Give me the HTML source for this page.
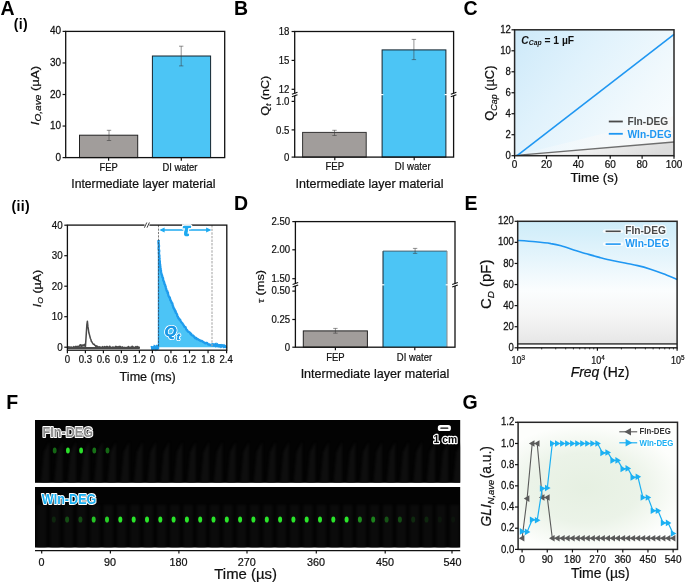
<!DOCTYPE html>
<html lang="en"><head><meta charset="utf-8"><title>Figure</title>
<style>html,body{margin:0;padding:0;background:#fff;overflow:hidden}svg{display:block}text{font-family:"Liberation Sans",Arial,Helvetica,sans-serif}</style>
</head><body>
<svg width="685" height="583" viewBox="0 0 685 583">
<defs>
<linearGradient id="gC" gradientUnits="userSpaceOnUse" x1="514.6" y1="29.8" x2="674" y2="155.7">
<stop offset="0" stop-color="#cde9f9"/><stop offset="0.35" stop-color="#e0f2fc"/><stop offset="0.7" stop-color="#f1f9fd"/><stop offset="1" stop-color="#fcfeff"/></linearGradient>
<linearGradient id="gCw" x1="0" y1="0" x2="1" y2="0"><stop offset="0" stop-color="#fafcfd" stop-opacity="0.2"/><stop offset="1" stop-color="#f7f7f7" stop-opacity="0.95"/></linearGradient>
<linearGradient id="gCg" x1="0" y1="0" x2="1" y2="0.15"><stop offset="0" stop-color="#fafafa"/><stop offset="0.5" stop-color="#f1f1f1"/><stop offset="1" stop-color="#dcdcdc"/></linearGradient>
<linearGradient id="gE" x1="0" y1="0" x2="0" y2="1">
<stop offset="0" stop-color="#cdecf9"/><stop offset="0.3" stop-color="#e6f5fc"/><stop offset="0.55" stop-color="#fbfdfe"/><stop offset="0.75" stop-color="#f5f5f5"/><stop offset="1" stop-color="#e4e4e4"/></linearGradient>
<radialGradient id="gG" cx="0.42" cy="0.52" r="0.62" gradientTransform="translate(0 0.1) scale(1 0.8)">
<stop offset="0" stop-color="#e6f0e2"/><stop offset="0.55" stop-color="#ebf3e8"/><stop offset="1" stop-color="#fdfefc"/></radialGradient>
<filter id="bl" color-interpolation-filters="sRGB" x="-100%" y="-100%" width="300%" height="300%"><feGaussianBlur stdDeviation="0.5"/></filter>
<filter id="bl2" color-interpolation-filters="sRGB" x="-50%" y="-20%" width="200%" height="140%"><feGaussianBlur stdDeviation="0.9"/></filter>
<clipPath id="cF1"><rect x="35" y="420" width="425.2" height="62.8"/></clipPath>
<clipPath id="cF2"><rect x="35" y="487" width="425.2" height="60.5"/></clipPath>
</defs>
<rect width="685" height="583" fill="#fff"/>
<text transform="translate(0.40,14.50) scale(1.0000,1.0000)" font-size="19.5" text-anchor="start" fill="#000" font-weight="bold" font-style="normal"  >A</text>
<text transform="translate(234.00,14.50) scale(1.0000,1.0000)" font-size="19.5" text-anchor="start" fill="#000" font-weight="bold" font-style="normal"  >B</text>
<text transform="translate(463.50,14.50) scale(1.0000,1.0000)" font-size="19.5" text-anchor="start" fill="#000" font-weight="bold" font-style="normal"  >C</text>
<text transform="translate(234.00,209.50) scale(1.0000,1.0000)" font-size="19.5" text-anchor="start" fill="#000" font-weight="bold" font-style="normal"  >D</text>
<text transform="translate(464.50,209.50) scale(1.0000,1.0000)" font-size="19.5" text-anchor="start" fill="#000" font-weight="bold" font-style="normal"  >E</text>
<text transform="translate(6.30,408.80) scale(1.0000,1.0000)" font-size="19.5" text-anchor="start" fill="#000" font-weight="bold" font-style="normal"  >F</text>
<text transform="translate(462.50,408.80) scale(1.0000,1.0000)" font-size="19.5" text-anchor="start" fill="#000" font-weight="bold" font-style="normal"  >G</text>
<text transform="translate(13.80,28.80) scale(1.0000,1.0000)" font-size="14" text-anchor="start" fill="#000" font-weight="bold" font-style="normal"  letter-spacing="0.35">(i)</text>
<text transform="translate(11.60,211.20) scale(1.0000,1.0000)" font-size="14" text-anchor="start" fill="#000" font-weight="bold" font-style="normal"  letter-spacing="0.35">(ii)</text>
<rect x="79.50" y="135.20" width="58.20" height="22.40" fill="#a19d9b" stroke="#222" stroke-width="1" />
<rect x="152.40" y="56.01" width="58.20" height="101.59" fill="#4cc5f5" stroke="#14242e" stroke-width="1" />
<line x1="109.00" y1="130.30" x2="109.00" y2="140.50" stroke="#3a3a3a" stroke-width="0.55" />
<line x1="106.80" y1="130.30" x2="111.20" y2="130.30" stroke="#3a3a3a" stroke-width="0.55" />
<line x1="106.80" y1="140.50" x2="111.20" y2="140.50" stroke="#3a3a3a" stroke-width="0.55" />
<line x1="181.20" y1="46.20" x2="181.20" y2="65.90" stroke="#3a3a3a" stroke-width="0.55" />
<line x1="179.00" y1="46.20" x2="183.40" y2="46.20" stroke="#3a3a3a" stroke-width="0.55" />
<line x1="179.00" y1="65.90" x2="183.40" y2="65.90" stroke="#3a3a3a" stroke-width="0.55" />
<rect x="65.70" y="31.40" width="159.00" height="126.20" fill="none" stroke="#111" stroke-width="1.3" />
<line x1="62.60" y1="157.60" x2="65.70" y2="157.60" stroke="#111" stroke-width="1.2" />
<text transform="translate(61.10,160.60) scale(1.0000,1.1400)" font-size="10" text-anchor="end" fill="#111" font-weight="normal" font-style="normal" stroke="#111" stroke-width="0.22" >0</text>
<line x1="62.60" y1="126.05" x2="65.70" y2="126.05" stroke="#111" stroke-width="1.2" />
<text transform="translate(61.10,129.05) scale(1.0000,1.1400)" font-size="10" text-anchor="end" fill="#111" font-weight="normal" font-style="normal" stroke="#111" stroke-width="0.22" >10</text>
<line x1="62.60" y1="94.50" x2="65.70" y2="94.50" stroke="#111" stroke-width="1.2" />
<text transform="translate(61.10,97.50) scale(1.0000,1.1400)" font-size="10" text-anchor="end" fill="#111" font-weight="normal" font-style="normal" stroke="#111" stroke-width="0.22" >20</text>
<line x1="62.60" y1="62.95" x2="65.70" y2="62.95" stroke="#111" stroke-width="1.2" />
<text transform="translate(61.10,65.95) scale(1.0000,1.1400)" font-size="10" text-anchor="end" fill="#111" font-weight="normal" font-style="normal" stroke="#111" stroke-width="0.22" >30</text>
<line x1="62.60" y1="31.40" x2="65.70" y2="31.40" stroke="#111" stroke-width="1.2" />
<text transform="translate(61.10,34.40) scale(1.0000,1.1400)" font-size="10" text-anchor="end" fill="#111" font-weight="normal" font-style="normal" stroke="#111" stroke-width="0.22" >40</text>
<line x1="108.60" y1="157.60" x2="108.60" y2="160.70" stroke="#111" stroke-width="1.2" />
<text transform="translate(108.60,170.80) scale(1.0000,1.1300)" font-size="9.4" text-anchor="middle" fill="#111" font-weight="normal" font-style="normal" stroke="#111" stroke-width="0.22" >FEP</text>
<line x1="181.30" y1="157.60" x2="181.30" y2="160.70" stroke="#111" stroke-width="1.2" />
<text transform="translate(179.90,170.80) scale(1.0000,1.1300)" font-size="9.4" text-anchor="middle" fill="#111" font-weight="normal" font-style="normal" stroke="#111" stroke-width="0.22" >DI water</text>
<text transform="translate(143.40,188.20) scale(1.0000,1.0800)" font-size="12.2" text-anchor="middle" fill="#111" font-weight="normal" font-style="normal" stroke="#111" stroke-width="0.22" >Intermediate layer material</text>
<text transform="translate(38.50,95.50) rotate(-90) scale(1.18,1)" font-size="11.2" text-anchor="middle" fill="#111" stroke="#111" stroke-width="0.22" ><tspan font-style="italic">I</tspan><tspan font-style="italic" font-size="8.5" dy="2.5">O,ave</tspan><tspan dy="-2.5"> (µA)</tspan></text>
<rect x="302.60" y="132.40" width="63.60" height="24.70" fill="#a19d9b" stroke="#333" stroke-width="1" />
<rect x="382.10" y="49.90" width="63.80" height="107.20" fill="#4cc5f5" stroke="#14242e" stroke-width="1" />
<line x1="380.60" y1="94.60" x2="383.40" y2="94.60" stroke="#fff" stroke-width="1.2" />
<line x1="444.60" y1="94.60" x2="447.40" y2="94.60" stroke="#fff" stroke-width="1.2" />
<line x1="334.50" y1="130.30" x2="334.50" y2="135.50" stroke="#3a3a3a" stroke-width="0.55" />
<line x1="332.30" y1="130.30" x2="336.70" y2="130.30" stroke="#3a3a3a" stroke-width="0.55" />
<line x1="332.30" y1="135.50" x2="336.70" y2="135.50" stroke="#3a3a3a" stroke-width="0.55" />
<line x1="413.90" y1="39.40" x2="413.90" y2="59.60" stroke="#3a3a3a" stroke-width="0.55" />
<line x1="411.70" y1="39.40" x2="416.10" y2="39.40" stroke="#3a3a3a" stroke-width="0.55" />
<line x1="411.70" y1="59.60" x2="416.10" y2="59.60" stroke="#3a3a3a" stroke-width="0.55" />
<rect x="294.70" y="31.50" width="158.90" height="125.60" fill="none" stroke="#111" stroke-width="1.3" />
<line x1="293.70" y1="94.60" x2="295.70" y2="94.60" stroke="#fff" stroke-width="2.2" />
<line x1="452.60" y1="94.60" x2="454.60" y2="94.60" stroke="#fff" stroke-width="2.2" />
<line x1="291.90" y1="94.35" x2="297.50" y2="92.35" stroke="#111" stroke-width="1.1" />
<line x1="291.90" y1="96.85" x2="297.50" y2="94.85" stroke="#111" stroke-width="1.1" />
<line x1="450.80" y1="94.35" x2="456.40" y2="92.35" stroke="#111" stroke-width="1.1" />
<line x1="450.80" y1="96.85" x2="456.40" y2="94.85" stroke="#111" stroke-width="1.1" />
<line x1="291.60" y1="31.50" x2="294.70" y2="31.50" stroke="#111" stroke-width="1.2" />
<text transform="translate(289.40,35.20) scale(0.9057,1.0000)" font-size="10.6" text-anchor="end" fill="#111" font-weight="normal" font-style="normal" stroke="#111" stroke-width="0.22" >18</text>
<line x1="291.60" y1="60.40" x2="294.70" y2="60.40" stroke="#111" stroke-width="1.2" />
<text transform="translate(289.40,64.10) scale(0.9057,1.0000)" font-size="10.6" text-anchor="end" fill="#111" font-weight="normal" font-style="normal" stroke="#111" stroke-width="0.22" >15</text>
<line x1="291.60" y1="89.30" x2="294.70" y2="89.30" stroke="#111" stroke-width="1.2" />
<text transform="translate(289.40,93.00) scale(0.9057,1.0000)" font-size="10.6" text-anchor="end" fill="#111" font-weight="normal" font-style="normal" stroke="#111" stroke-width="0.22" >12</text>
<line x1="291.60" y1="101.40" x2="294.70" y2="101.40" stroke="#111" stroke-width="1.2" />
<text transform="translate(289.40,105.10) scale(0.9057,1.0000)" font-size="10.6" text-anchor="end" fill="#111" font-weight="normal" font-style="normal" stroke="#111" stroke-width="0.22" >1.0</text>
<line x1="291.60" y1="129.90" x2="294.70" y2="129.90" stroke="#111" stroke-width="1.2" />
<text transform="translate(289.40,133.60) scale(0.9057,1.0000)" font-size="10.6" text-anchor="end" fill="#111" font-weight="normal" font-style="normal" stroke="#111" stroke-width="0.22" >0.5</text>
<line x1="291.60" y1="157.10" x2="294.70" y2="157.10" stroke="#111" stroke-width="1.2" />
<text transform="translate(289.40,160.80) scale(0.9057,1.0000)" font-size="10.6" text-anchor="end" fill="#111" font-weight="normal" font-style="normal" stroke="#111" stroke-width="0.22" >0</text>
<line x1="334.80" y1="157.10" x2="334.80" y2="160.20" stroke="#111" stroke-width="1.2" />
<text transform="translate(334.80,170.40) scale(0.9057,1.0000)" font-size="10.6" text-anchor="middle" fill="#111" font-weight="normal" font-style="normal" stroke="#111" stroke-width="0.22" >FEP</text>
<line x1="414.20" y1="157.10" x2="414.20" y2="160.20" stroke="#111" stroke-width="1.2" />
<text transform="translate(412.70,170.40) scale(0.9057,1.0000)" font-size="10.6" text-anchor="middle" fill="#111" font-weight="normal" font-style="normal" stroke="#111" stroke-width="0.22" >DI water</text>
<text transform="translate(369.50,188.20) scale(1.0000,1.0800)" font-size="12.5" text-anchor="middle" fill="#111" font-weight="normal" font-style="normal" stroke="#111" stroke-width="0.22" >Intermediate layer material</text>
<text transform="translate(268.60,95.70) rotate(-90) scale(1.08,1)" font-size="11.6" text-anchor="middle" fill="#111" stroke="#111" stroke-width="0.22" >Q<tspan font-style="italic" font-size="8" dy="2.3">t</tspan><tspan dy="-2.3"> (nC)</tspan></text>
<rect x="514.6" y="29.8" width="159.39999999999998" height="125.89999999999999" fill="url(#gC)"/>
<polygon points="514.6,155.7 674,155.7 674,116" fill="url(#gCw)"/>
<polygon points="514.6,155.7 674,155.7 674,142" fill="url(#gCg)"/>
<line x1="516.10" y1="155.40" x2="674.00" y2="142.00" stroke="#6e6e6e" stroke-width="1.3" />
<line x1="517.10" y1="155.70" x2="674.00" y2="34.30" stroke="#1f97f2" stroke-width="1.6" />
<rect x="514.60" y="29.80" width="159.40" height="125.90" fill="none" stroke="#262626" stroke-width="1.5" />
<line x1="511.50" y1="155.70" x2="514.60" y2="155.70" stroke="#111" stroke-width="1.2" />
<text transform="translate(510.80,158.80) scale(1.0000,1.1500)" font-size="9.6" text-anchor="end" fill="#111" font-weight="normal" font-style="normal" stroke="#111" stroke-width="0.22" >0</text>
<line x1="511.50" y1="134.72" x2="514.60" y2="134.72" stroke="#111" stroke-width="1.2" />
<text transform="translate(510.80,137.82) scale(1.0000,1.1500)" font-size="9.6" text-anchor="end" fill="#111" font-weight="normal" font-style="normal" stroke="#111" stroke-width="0.22" >2</text>
<line x1="511.50" y1="113.73" x2="514.60" y2="113.73" stroke="#111" stroke-width="1.2" />
<text transform="translate(510.80,116.83) scale(1.0000,1.1500)" font-size="9.6" text-anchor="end" fill="#111" font-weight="normal" font-style="normal" stroke="#111" stroke-width="0.22" >4</text>
<line x1="511.50" y1="92.75" x2="514.60" y2="92.75" stroke="#111" stroke-width="1.2" />
<text transform="translate(510.80,95.85) scale(1.0000,1.1500)" font-size="9.6" text-anchor="end" fill="#111" font-weight="normal" font-style="normal" stroke="#111" stroke-width="0.22" >6</text>
<line x1="511.50" y1="71.77" x2="514.60" y2="71.77" stroke="#111" stroke-width="1.2" />
<text transform="translate(510.80,74.87) scale(1.0000,1.1500)" font-size="9.6" text-anchor="end" fill="#111" font-weight="normal" font-style="normal" stroke="#111" stroke-width="0.22" >8</text>
<line x1="511.50" y1="50.78" x2="514.60" y2="50.78" stroke="#111" stroke-width="1.2" />
<text transform="translate(510.80,53.88) scale(1.0000,1.1500)" font-size="9.6" text-anchor="end" fill="#111" font-weight="normal" font-style="normal" stroke="#111" stroke-width="0.22" >10</text>
<line x1="511.50" y1="29.80" x2="514.60" y2="29.80" stroke="#111" stroke-width="1.2" />
<text transform="translate(510.80,32.90) scale(1.0000,1.1500)" font-size="9.6" text-anchor="end" fill="#111" font-weight="normal" font-style="normal" stroke="#111" stroke-width="0.22" >12</text>
<line x1="514.60" y1="155.70" x2="514.60" y2="158.80" stroke="#111" stroke-width="1.2" />
<text transform="translate(514.60,167.80) scale(0.9434,1.0000)" font-size="10.6" text-anchor="middle" fill="#111" font-weight="normal" font-style="normal" stroke="#111" stroke-width="0.22" >0</text>
<line x1="546.48" y1="155.70" x2="546.48" y2="158.80" stroke="#111" stroke-width="1.2" />
<text transform="translate(546.48,167.80) scale(0.9434,1.0000)" font-size="10.6" text-anchor="middle" fill="#111" font-weight="normal" font-style="normal" stroke="#111" stroke-width="0.22" >20</text>
<line x1="578.36" y1="155.70" x2="578.36" y2="158.80" stroke="#111" stroke-width="1.2" />
<text transform="translate(578.36,167.80) scale(0.9434,1.0000)" font-size="10.6" text-anchor="middle" fill="#111" font-weight="normal" font-style="normal" stroke="#111" stroke-width="0.22" >40</text>
<line x1="610.24" y1="155.70" x2="610.24" y2="158.80" stroke="#111" stroke-width="1.2" />
<text transform="translate(610.24,167.80) scale(0.9434,1.0000)" font-size="10.6" text-anchor="middle" fill="#111" font-weight="normal" font-style="normal" stroke="#111" stroke-width="0.22" >60</text>
<line x1="642.12" y1="155.70" x2="642.12" y2="158.80" stroke="#111" stroke-width="1.2" />
<text transform="translate(642.12,167.80) scale(0.9434,1.0000)" font-size="10.6" text-anchor="middle" fill="#111" font-weight="normal" font-style="normal" stroke="#111" stroke-width="0.22" >80</text>
<line x1="674.00" y1="155.70" x2="674.00" y2="158.80" stroke="#111" stroke-width="1.2" />
<text transform="translate(674.00,167.80) scale(0.9434,1.0000)" font-size="10.6" text-anchor="middle" fill="#111" font-weight="normal" font-style="normal" stroke="#111" stroke-width="0.22" >100</text>
<text transform="translate(594.30,182.30) scale(1.0000,1.0400)" font-size="13.1" text-anchor="middle" fill="#111" font-weight="normal" font-style="normal" stroke="#111" stroke-width="0.22" >Time (s)</text>
<text transform="translate(494.20,93.10) rotate(-90) scale(0.98,1)" font-size="13.2" text-anchor="middle" fill="#111" stroke="#111" stroke-width="0.22" >Q<tspan font-style="italic" font-size="9" dy="2.8">Cap</tspan><tspan dy="-2.8"> (µC)</tspan></text>
<text transform="translate(521.30,43.60) scale(0.9717,1.0000)" font-size="10.6" text-anchor="start" fill="#111" font-weight="bold" font-style="normal"  ><tspan font-style="italic">C</tspan><tspan font-style="italic" font-size="7" dy="1.8">Cap</tspan><tspan dy="-1.8"> = 1 µF</tspan></text>
<line x1="608.80" y1="121.50" x2="622.80" y2="121.50" stroke="#4a4a4a" stroke-width="1.8" />
<line x1="608.80" y1="133.80" x2="622.80" y2="133.80" stroke="#1f97f2" stroke-width="1.8" />
<text transform="translate(627.50,125.20) scale(0.9623,1.0000)" font-size="10.6" text-anchor="start" fill="#4a4a4a" font-weight="bold" font-style="normal"  >FIn-DEG</text>
<text transform="translate(627.50,137.60) scale(0.9623,1.0000)" font-size="10.6" text-anchor="start" fill="#1f97f2" font-weight="bold" font-style="normal"  >WIn-DEG</text>
<polyline fill="none" stroke="#4a4a4a" stroke-width="1.5" stroke-linejoin="round" points="67.4,347.3 67.9,347.6 68.4,346.8 68.9,347.7 69.4,347.0 69.9,347.3 70.4,347.7 70.9,347.0 71.4,347.8 71.9,347.1 72.4,347.7 72.9,347.7 73.4,347.2 73.9,346.5 74.4,347.6 74.9,347.5 75.4,346.9 75.9,346.4 76.4,346.9 76.9,347.2 77.4,346.3 77.9,347.7 78.4,346.5 78.9,346.2 79.4,346.2 79.9,345.3 80.4,344.8 80.9,345.3 81.4,346.7 81.9,345.3 82.4,345.7 82.9,345.2 83.4,345.0 83.9,345.4 84.4,345.1 84.9,344.2 85.4,347.2 85.9,339.6 86.4,331.9 86.9,324.3 87.4,321.2 87.9,326.4 88.4,329.5 88.9,333.1 89.4,334.6 89.9,336.5 90.4,338.5 90.9,339.5 91.4,341.5 91.9,341.9 92.4,342.9 92.9,343.6 93.4,344.4 93.9,344.2 94.4,344.5 94.9,345.5 95.4,345.5 95.9,346.6 96.4,345.8 96.9,346.1 97.4,346.3 97.9,346.6 98.4,347.4 98.9,347.2 99.4,346.8 99.9,347.8 100.4,347.1 100.9,347.6 101.4,347.6 101.9,347.7 102.4,346.6 102.9,347.6 103.4,347.4 103.9,347.2 104.4,346.5 104.9,347.7 105.4,347.1 105.9,347.0 106.4,346.5 106.9,346.6 107.4,346.5 107.9,347.4 108.4,347.2 108.9,347.3 109.4,346.5 109.9,346.3 110.4,347.6 110.9,347.5 111.4,347.5 111.9,347.5 112.4,347.1 112.9,346.9 113.4,347.4 113.9,347.8 114.4,347.2 114.9,347.2 115.4,346.9 115.9,346.4 116.4,346.8 116.9,347.0 117.4,346.9 117.9,346.8 118.4,347.7 118.9,346.4 119.4,346.6 119.9,346.5 120.4,346.6 120.9,347.2 121.4,347.2 121.9,347.7 122.4,346.8 122.9,347.7 123.4,347.7 123.9,347.5 124.4,347.6 124.9,347.3 125.4,347.7 125.9,347.8 126.4,347.6 126.9,347.7 127.4,347.3 127.9,347.8 128.4,346.5 128.9,346.9 129.4,347.6 129.9,347.4 130.4,347.3 130.9,347.3 131.4,347.6 131.9,346.5 132.4,346.3 132.9,347.1 133.4,347.1 133.9,347.7 134.4,347.7 134.9,347.3 135.4,347.4 135.9,346.5 136.4,347.6 136.9,347.8 137.4,346.4 137.9,347.0 138.4,347.6 138.9,347.0 139.4,347.8"/>
<line x1="67.40" y1="348.00" x2="139.80" y2="348.00" stroke="#4a4a4a" stroke-width="1.9" />
<line x1="79.30" y1="345.60" x2="85.30" y2="345.60" stroke="#4a4a4a" stroke-width="1.8" />
<polygon fill="#4cc4f6" points="158.5,347.2 158.6,239.5 159.0,252.0 159.7,262.0 160.6,270.0 163.4,280.0 166.6,290.0 170.3,299.5 173.5,307.0 176.2,313.0 179.0,318.6 182.6,324.2 186.3,329.2 190.0,333.0 193.7,336.4 197.5,339.0 201.3,341.3 206.0,343.2 211.0,344.8 218.0,345.8 226.5,346.6 226.5,347.2"/>
<polyline fill="none" stroke="#1f9cec" stroke-width="2.3" stroke-linejoin="round" points="158.6,240.2 158.8,240.6 158.5,241.0 158.5,242.4 158.7,243.2 158.6,243.3 158.9,245.2 159.0,245.8 159.0,246.5 158.7,247.0 158.8,247.2 158.7,248.4 158.8,249.8 159.2,250.3 159.2,251.8 159.2,251.8 158.9,252.5 159.0,253.3 159.2,255.1 159.4,255.3 159.4,256.6 159.1,257.2 159.6,258.2 159.6,258.6 159.4,259.9 159.5,260.8 159.9,261.0 159.7,262.6 159.9,262.3 159.7,263.1 160.2,264.8 159.9,265.7 160.4,266.2 160.2,266.9 160.1,266.9 160.7,268.6 160.5,269.8 160.6,270.5 161.0,270.4 160.9,271.4 161.2,272.6 161.4,273.2 161.6,274.7 161.9,274.9 162.3,276.4 162.4,277.3 162.7,277.5 162.9,277.7 163.1,278.7 163.2,280.4 163.5,280.7 164.0,281.6 164.1,282.3 164.4,283.5 164.4,283.9 164.8,284.3 165.3,285.4 165.4,286.5 165.8,286.8 165.9,287.7 166.1,288.7 166.3,289.3 166.6,290.6 167.0,291.3 167.4,291.2 167.6,293.0 168.0,292.7 168.0,293.9 168.2,294.4 168.5,295.8 169.2,296.9 169.2,297.4 169.8,297.4 170.2,299.4 170.2,300.1 170.6,300.2 171.2,301.5 171.1,301.7 171.6,302.3 171.7,303.0 172.3,303.3 172.6,304.7 172.6,305.3 173.2,306.3 173.3,307.7 174.0,308.4 174.0,308.2 174.3,309.6 174.7,309.5 175.1,311.3 175.7,311.2 175.7,312.8 176.2,313.3 176.4,313.2 177.1,314.5 177.2,316.0 177.9,316.6 178.0,317.5 178.4,318.3 179.0,318.4 179.5,319.9 179.8,319.5 180.4,320.3 180.6,320.9 181.0,321.7 181.6,322.5 182.3,323.2 182.6,323.7 183.1,324.2 183.5,325.0 184.3,326.4 184.6,327.0 185.5,327.2 185.9,328.4 186.3,329.7 186.9,329.8 187.6,331.1 188.1,331.6 188.9,331.9 189.3,332.2 189.8,332.5 190.4,333.9 191.1,333.7 191.6,335.2 192.7,335.5 193.0,335.5 193.6,336.3 194.3,336.8 195.1,338.1 196.2,338.0 196.6,339.1 197.4,338.8 198.0,339.3 199.0,339.9 199.6,340.4 200.3,340.5 201.1,341.2 201.9,340.9 202.8,341.6 203.7,342.3 204.6,342.8 205.3,343.4 205.9,343.0 207.1,343.0 207.8,343.9 208.3,344.5 209.5,344.4 210.3,345.0 210.8,344.8 211.9,345.4 212.9,345.5 213.7,345.7 214.6,345.6 215.2,344.8 216.1,345.4 216.9,346.1 218.0,346.0 218.9,346.1 219.7,345.3 220.7,346.4 221.4,346.2 222.3,345.6 223.2,345.9 223.7,346.0 224.9,346.0 225.8,347.2"/>
<polyline fill="none" stroke="#1f9cec" stroke-width="2.2" points="151.0,347.6 151.5,347.2 152.0,347.5 152.5,348.2 153.0,348.5 153.5,348.0 154.0,348.1 154.5,346.2 155.0,346.5 155.5,346.8 156.0,348.4 156.5,347.0 157.0,347.8 157.5,346.0 158.0,346.2"/>
<rect x="151.00" y="346.20" width="7.50" height="3.60" fill="#1f9cec" stroke="none" stroke-width="1" />
<line x1="158.50" y1="240.00" x2="158.50" y2="349.20" stroke="#1f9cec" stroke-width="1.4" />
<polyline fill="none" stroke="#1f9cec" stroke-width="2.6" points="211.0,344.1 211.5,344.5 212.0,344.6 212.5,344.7 213.0,344.4 213.5,344.7 214.0,344.7 214.5,344.8 215.0,344.5 215.5,345.4 216.0,344.7 216.5,345.6 217.0,345.6 217.5,344.8 218.0,345.3 218.5,345.7 219.0,346.0 219.5,345.5 220.0,345.4 220.5,345.4 221.0,346.2 221.5,345.6 222.0,346.0 222.5,345.7 223.0,346.1 223.5,346.6 224.0,345.9 224.5,346.6 225.0,346.4 225.5,346.9 226.0,346.8 226.5,346.4"/>
<line x1="158.50" y1="225.10" x2="158.50" y2="347.20" stroke="#444" stroke-width="0.7" stroke-dasharray="2.2 1.2"/>
<line x1="212.00" y1="225.10" x2="212.00" y2="347.20" stroke="#aaa" stroke-width="1.1" stroke-dasharray="2.4 1.2"/>
<rect x="67.40" y="225.10" width="159.40" height="125.10" fill="none" stroke="#111" stroke-width="1.3" />
<line x1="144.50" y1="225.10" x2="149.50" y2="225.10" stroke="#fff" stroke-width="2.2" />
<line x1="144.40" y1="227.70" x2="146.80" y2="222.50" stroke="#111" stroke-width="0.8" />
<line x1="147.00" y1="227.70" x2="149.40" y2="222.50" stroke="#111" stroke-width="0.8" />
<rect x="182.00" y="223.90" width="9.20" height="2.40" fill="#ddd" stroke="none" stroke-width="1" />
<line x1="161.00" y1="230.00" x2="209.50" y2="230.00" stroke="#1eaaf0" stroke-width="1.3" />
<polygon points="159.3,230 164.6,227.6 164.6,232.4" fill="#1eaaf0"/>
<polygon points="211.4,230 206.1,227.6 206.1,232.4" fill="#1eaaf0"/>
<text transform="translate(186.20,235.60) scale(1.0000,1.0000)" font-size="18.5" text-anchor="middle" fill="#1eaaf0" font-weight="bold" font-style="italic"  stroke="#fff" stroke-width="3" paint-order="stroke" stroke-linejoin="round">τ</text>
<text transform="translate(186.20,235.60) scale(1.0000,1.0000)" font-size="18.5" text-anchor="middle" fill="#1eaaf0" font-weight="bold" font-style="italic"  stroke="#1eaaf0" stroke-width="0.7" stroke-linejoin="round">τ</text>
<text transform="translate(164.60,335.80) scale(1.0000,1.0000)" font-size="15.5" text-anchor="start" fill="#1b98e6" font-weight="bold" font-style="italic"  stroke="#fff" stroke-width="2.2" paint-order="stroke" stroke-linejoin="round">Q<tspan font-size="9.5" dy="4.2">t</tspan></text>
<text transform="translate(164.60,335.80) scale(1.0000,1.0000)" font-size="15.5" text-anchor="start" fill="#1b98e6" font-weight="bold" font-style="italic"  stroke="#1b98e6" stroke-width="0.3">Q<tspan font-size="9.5" dy="4.2">t</tspan></text>
<line x1="64.30" y1="347.20" x2="67.40" y2="347.20" stroke="#111" stroke-width="1.2" />
<text transform="translate(62.60,350.50) scale(0.9245,1.0000)" font-size="10.6" text-anchor="end" fill="#111" font-weight="normal" font-style="normal" stroke="#111" stroke-width="0.22" >0</text>
<line x1="64.30" y1="316.70" x2="67.40" y2="316.70" stroke="#111" stroke-width="1.2" />
<text transform="translate(62.60,320.00) scale(0.9245,1.0000)" font-size="10.6" text-anchor="end" fill="#111" font-weight="normal" font-style="normal" stroke="#111" stroke-width="0.22" >10</text>
<line x1="64.30" y1="286.20" x2="67.40" y2="286.20" stroke="#111" stroke-width="1.2" />
<text transform="translate(62.60,289.50) scale(0.9245,1.0000)" font-size="10.6" text-anchor="end" fill="#111" font-weight="normal" font-style="normal" stroke="#111" stroke-width="0.22" >20</text>
<line x1="64.30" y1="255.70" x2="67.40" y2="255.70" stroke="#111" stroke-width="1.2" />
<text transform="translate(62.60,259.00) scale(0.9245,1.0000)" font-size="10.6" text-anchor="end" fill="#111" font-weight="normal" font-style="normal" stroke="#111" stroke-width="0.22" >30</text>
<line x1="64.30" y1="225.20" x2="67.40" y2="225.20" stroke="#111" stroke-width="1.2" />
<text transform="translate(62.60,228.50) scale(0.9245,1.0000)" font-size="10.6" text-anchor="end" fill="#111" font-weight="normal" font-style="normal" stroke="#111" stroke-width="0.22" >40</text>
<line x1="67.40" y1="350.20" x2="67.40" y2="353.30" stroke="#111" stroke-width="1.2" />
<text transform="translate(67.40,362.80) scale(0.9057,1.0000)" font-size="10.6" text-anchor="middle" fill="#111" font-weight="normal" font-style="normal" stroke="#111" stroke-width="0.22" >0</text>
<line x1="85.40" y1="350.20" x2="85.40" y2="353.30" stroke="#111" stroke-width="1.2" />
<text transform="translate(85.40,362.80) scale(0.9057,1.0000)" font-size="10.6" text-anchor="middle" fill="#111" font-weight="normal" font-style="normal" stroke="#111" stroke-width="0.22" >0.3</text>
<line x1="103.40" y1="350.20" x2="103.40" y2="353.30" stroke="#111" stroke-width="1.2" />
<text transform="translate(103.40,362.80) scale(0.9057,1.0000)" font-size="10.6" text-anchor="middle" fill="#111" font-weight="normal" font-style="normal" stroke="#111" stroke-width="0.22" >0.6</text>
<line x1="121.40" y1="350.20" x2="121.40" y2="353.30" stroke="#111" stroke-width="1.2" />
<text transform="translate(121.40,362.80) scale(0.9057,1.0000)" font-size="10.6" text-anchor="middle" fill="#111" font-weight="normal" font-style="normal" stroke="#111" stroke-width="0.22" >0.9</text>
<line x1="139.40" y1="350.20" x2="139.40" y2="353.30" stroke="#111" stroke-width="1.2" />
<text transform="translate(139.40,362.80) scale(0.9057,1.0000)" font-size="10.6" text-anchor="middle" fill="#111" font-weight="normal" font-style="normal" stroke="#111" stroke-width="0.22" >1.2</text>
<line x1="152.40" y1="350.20" x2="152.40" y2="353.30" stroke="#111" stroke-width="1.2" />
<text transform="translate(152.40,362.80) scale(0.9057,1.0000)" font-size="10.6" text-anchor="middle" fill="#111" font-weight="normal" font-style="normal" stroke="#111" stroke-width="0.22" >0</text>
<line x1="170.95" y1="350.20" x2="170.95" y2="353.30" stroke="#111" stroke-width="1.2" />
<text transform="translate(170.95,362.80) scale(0.9057,1.0000)" font-size="10.6" text-anchor="middle" fill="#111" font-weight="normal" font-style="normal" stroke="#111" stroke-width="0.22" >0.6</text>
<line x1="189.50" y1="350.20" x2="189.50" y2="353.30" stroke="#111" stroke-width="1.2" />
<text transform="translate(189.50,362.80) scale(0.9057,1.0000)" font-size="10.6" text-anchor="middle" fill="#111" font-weight="normal" font-style="normal" stroke="#111" stroke-width="0.22" >1.2</text>
<line x1="208.05" y1="350.20" x2="208.05" y2="353.30" stroke="#111" stroke-width="1.2" />
<text transform="translate(208.05,362.80) scale(0.9057,1.0000)" font-size="10.6" text-anchor="middle" fill="#111" font-weight="normal" font-style="normal" stroke="#111" stroke-width="0.22" >1.8</text>
<line x1="226.60" y1="350.20" x2="226.60" y2="353.30" stroke="#111" stroke-width="1.2" />
<text transform="translate(226.10,362.80) scale(0.9057,1.0000)" font-size="10.6" text-anchor="middle" fill="#111" font-weight="normal" font-style="normal" stroke="#111" stroke-width="0.22" >2.4</text>
<text transform="translate(147.70,381.20) scale(1.0000,1.0000)" font-size="12.6" text-anchor="middle" fill="#111" font-weight="normal" font-style="normal" stroke="#111" stroke-width="0.22" >Time (ms)</text>
<text transform="translate(41.00,288.50) rotate(-90) scale(1.08,1)" font-size="11.6" text-anchor="middle" fill="#111" stroke="#111" stroke-width="0.22" ><tspan font-style="italic">I</tspan><tspan font-style="italic" font-size="8" dy="2.3">O</tspan><tspan dy="-2.3"> (µA)</tspan></text>
<rect x="303.30" y="330.90" width="64.10" height="16.30" fill="#a19d9b" stroke="#222" stroke-width="1" />
<rect x="383.00" y="251.10" width="64.00" height="96.10" fill="#4cc5f5" stroke="none" stroke-width="0.8" />
<line x1="383.00" y1="251.10" x2="383.00" y2="347.20" stroke="#14242e" stroke-width="1" />
<line x1="383.00" y1="251.10" x2="447.00" y2="251.10" stroke="#3a5360" stroke-width="0.9" />
<line x1="447.00" y1="251.10" x2="447.00" y2="347.20" stroke="#8f8f8f" stroke-width="1.1" />
<line x1="381.50" y1="284.80" x2="384.30" y2="284.80" stroke="#fff" stroke-width="1.2" />
<line x1="445.70" y1="284.80" x2="448.50" y2="284.80" stroke="#fff" stroke-width="1.2" />
<line x1="335.40" y1="328.40" x2="335.40" y2="333.20" stroke="#3a3a3a" stroke-width="0.55" />
<line x1="333.20" y1="328.40" x2="337.60" y2="328.40" stroke="#3a3a3a" stroke-width="0.55" />
<line x1="333.20" y1="333.20" x2="337.60" y2="333.20" stroke="#3a3a3a" stroke-width="0.55" />
<line x1="415.10" y1="248.40" x2="415.10" y2="253.40" stroke="#3a3a3a" stroke-width="0.55" />
<line x1="412.90" y1="248.40" x2="417.30" y2="248.40" stroke="#3a3a3a" stroke-width="0.55" />
<line x1="412.90" y1="253.40" x2="417.30" y2="253.40" stroke="#3a3a3a" stroke-width="0.55" />
<rect x="295.40" y="221.60" width="159.60" height="125.60" fill="none" stroke="#111" stroke-width="1.3" />
<line x1="294.40" y1="284.80" x2="296.40" y2="284.80" stroke="#fff" stroke-width="2.2" />
<line x1="454.00" y1="284.80" x2="456.00" y2="284.80" stroke="#fff" stroke-width="2.2" />
<line x1="292.60" y1="284.55" x2="298.20" y2="282.55" stroke="#111" stroke-width="1.1" />
<line x1="292.60" y1="287.05" x2="298.20" y2="285.05" stroke="#111" stroke-width="1.1" />
<line x1="452.20" y1="284.55" x2="457.80" y2="282.55" stroke="#111" stroke-width="1.1" />
<line x1="452.20" y1="287.05" x2="457.80" y2="285.05" stroke="#111" stroke-width="1.1" />
<line x1="292.30" y1="221.60" x2="295.40" y2="221.60" stroke="#111" stroke-width="1.2" />
<text transform="translate(290.10,224.90) scale(0.9057,1.0000)" font-size="10.6" text-anchor="end" fill="#111" font-weight="normal" font-style="normal" stroke="#111" stroke-width="0.22" >2.50</text>
<line x1="292.30" y1="249.80" x2="295.40" y2="249.80" stroke="#111" stroke-width="1.2" />
<text transform="translate(290.10,253.10) scale(0.9057,1.0000)" font-size="10.6" text-anchor="end" fill="#111" font-weight="normal" font-style="normal" stroke="#111" stroke-width="0.22" >2.00</text>
<line x1="292.30" y1="278.70" x2="295.40" y2="278.70" stroke="#111" stroke-width="1.2" />
<text transform="translate(290.10,282.00) scale(0.9057,1.0000)" font-size="10.6" text-anchor="end" fill="#111" font-weight="normal" font-style="normal" stroke="#111" stroke-width="0.22" >1.50</text>
<line x1="292.30" y1="291.10" x2="295.40" y2="291.10" stroke="#111" stroke-width="1.2" />
<text transform="translate(290.10,294.40) scale(0.9057,1.0000)" font-size="10.6" text-anchor="end" fill="#111" font-weight="normal" font-style="normal" stroke="#111" stroke-width="0.22" >0.50</text>
<line x1="292.30" y1="319.50" x2="295.40" y2="319.50" stroke="#111" stroke-width="1.2" />
<text transform="translate(290.10,322.80) scale(0.9057,1.0000)" font-size="10.6" text-anchor="end" fill="#111" font-weight="normal" font-style="normal" stroke="#111" stroke-width="0.22" >0.25</text>
<line x1="292.30" y1="347.20" x2="295.40" y2="347.20" stroke="#111" stroke-width="1.2" />
<text transform="translate(290.10,350.50) scale(0.9057,1.0000)" font-size="10.6" text-anchor="end" fill="#111" font-weight="normal" font-style="normal" stroke="#111" stroke-width="0.22" >0</text>
<line x1="335.40" y1="347.20" x2="335.40" y2="350.30" stroke="#111" stroke-width="1.2" />
<text transform="translate(335.40,360.90) scale(0.8962,1.0000)" font-size="10.6" text-anchor="middle" fill="#111" font-weight="normal" font-style="normal" stroke="#111" stroke-width="0.22" >FEP</text>
<line x1="414.80" y1="347.20" x2="414.80" y2="350.30" stroke="#111" stroke-width="1.2" />
<text transform="translate(414.50,360.90) scale(0.8962,1.0000)" font-size="10.6" text-anchor="middle" fill="#111" font-weight="normal" font-style="normal" stroke="#111" stroke-width="0.22" >DI water</text>
<text transform="translate(375.00,378.20) scale(1.0000,1.0800)" font-size="12.58" text-anchor="middle" fill="#111" font-weight="normal" font-style="normal" stroke="#111" stroke-width="0.22" >Intermediate layer material</text>
<text transform="translate(263.80,286.50) rotate(-90) scale(1.1,1)" font-size="11.6" text-anchor="middle" fill="#111" stroke="#111" stroke-width="0.22" ><tspan font-style="italic" font-family="Liberation Serif, serif" font-size="10.5">τ</tspan> (ms)</text>
<rect x="517.7" y="221.3" width="159.39999999999998" height="126.5" fill="url(#gE)"/>
<rect x="517.70" y="344.30" width="159.40" height="3.50" fill="#fff" stroke="none" stroke-width="1" />
<line x1="517.70" y1="343.90" x2="677.10" y2="343.90" stroke="#555" stroke-width="1.7" />
<path fill="none" stroke="#1f97f2" stroke-width="1.6" d="M517.7,240.5 C520.7,240.7 530.0,241.3 535.5,241.8 C541.0,242.3 546.6,242.9 550.9,243.6 C555.2,244.2 556.9,244.5 561.1,245.7 C565.4,246.9 572.1,249.5 576.4,250.8 C580.6,252.2 582.8,252.7 586.6,253.8 C590.4,254.9 595.1,256.3 599.4,257.4 C603.7,258.5 607.9,259.6 612.2,260.5 C616.5,261.4 620.8,262.1 625.0,263.0 C629.2,263.9 633.5,264.6 637.7,265.6 C642.0,266.6 646.2,267.8 650.5,269.2 C654.8,270.6 658.9,272.1 663.3,273.8 C667.7,275.5 674.8,278.5 677.1,279.4"/>
<rect x="517.70" y="221.30" width="159.40" height="126.50" fill="none" stroke="#262626" stroke-width="1.5" />
<line x1="514.60" y1="347.80" x2="517.70" y2="347.80" stroke="#111" stroke-width="1.2" />
<text transform="translate(513.90,350.90) scale(1.0000,1.1500)" font-size="9.6" text-anchor="end" fill="#111" font-weight="normal" font-style="normal" stroke="#111" stroke-width="0.22" >0</text>
<line x1="514.60" y1="326.72" x2="517.70" y2="326.72" stroke="#111" stroke-width="1.2" />
<text transform="translate(513.90,329.82) scale(1.0000,1.1500)" font-size="9.6" text-anchor="end" fill="#111" font-weight="normal" font-style="normal" stroke="#111" stroke-width="0.22" >20</text>
<line x1="514.60" y1="305.63" x2="517.70" y2="305.63" stroke="#111" stroke-width="1.2" />
<text transform="translate(513.90,308.73) scale(1.0000,1.1500)" font-size="9.6" text-anchor="end" fill="#111" font-weight="normal" font-style="normal" stroke="#111" stroke-width="0.22" >40</text>
<line x1="514.60" y1="284.55" x2="517.70" y2="284.55" stroke="#111" stroke-width="1.2" />
<text transform="translate(513.90,287.65) scale(1.0000,1.1500)" font-size="9.6" text-anchor="end" fill="#111" font-weight="normal" font-style="normal" stroke="#111" stroke-width="0.22" >60</text>
<line x1="514.60" y1="263.47" x2="517.70" y2="263.47" stroke="#111" stroke-width="1.2" />
<text transform="translate(513.90,266.57) scale(1.0000,1.1500)" font-size="9.6" text-anchor="end" fill="#111" font-weight="normal" font-style="normal" stroke="#111" stroke-width="0.22" >80</text>
<line x1="514.60" y1="242.38" x2="517.70" y2="242.38" stroke="#111" stroke-width="1.2" />
<text transform="translate(513.90,245.48) scale(1.0000,1.1500)" font-size="9.6" text-anchor="end" fill="#111" font-weight="normal" font-style="normal" stroke="#111" stroke-width="0.22" >100</text>
<line x1="514.60" y1="221.30" x2="517.70" y2="221.30" stroke="#111" stroke-width="1.2" />
<text transform="translate(513.90,224.40) scale(1.0000,1.1500)" font-size="9.6" text-anchor="end" fill="#111" font-weight="normal" font-style="normal" stroke="#111" stroke-width="0.22" >120</text>
<line x1="517.70" y1="347.80" x2="517.70" y2="350.80" stroke="#111" stroke-width="1.2" />
<text transform="translate(518.30,364.00) scale(0.8491,1.0000)" font-size="10.6" text-anchor="middle" fill="#111" font-weight="normal" font-style="normal" stroke="#111" stroke-width="0.22" >10<tspan font-size="7.5" dy="-4.4">3</tspan></text>
<line x1="541.69" y1="347.80" x2="541.69" y2="349.40" stroke="#111" stroke-width="0.8" />
<line x1="555.73" y1="347.80" x2="555.73" y2="349.40" stroke="#111" stroke-width="0.8" />
<line x1="565.68" y1="347.80" x2="565.68" y2="349.40" stroke="#111" stroke-width="0.8" />
<line x1="573.41" y1="347.80" x2="573.41" y2="349.40" stroke="#111" stroke-width="0.8" />
<line x1="579.72" y1="347.80" x2="579.72" y2="349.40" stroke="#111" stroke-width="0.8" />
<line x1="585.05" y1="347.80" x2="585.05" y2="349.40" stroke="#111" stroke-width="0.8" />
<line x1="589.68" y1="347.80" x2="589.68" y2="349.40" stroke="#111" stroke-width="0.8" />
<line x1="593.75" y1="347.80" x2="593.75" y2="349.40" stroke="#111" stroke-width="0.8" />
<line x1="597.40" y1="347.80" x2="597.40" y2="350.80" stroke="#111" stroke-width="1.2" />
<text transform="translate(598.00,364.00) scale(0.8491,1.0000)" font-size="10.6" text-anchor="middle" fill="#111" font-weight="normal" font-style="normal" stroke="#111" stroke-width="0.22" >10<tspan font-size="7.5" dy="-4.4">4</tspan></text>
<line x1="621.39" y1="347.80" x2="621.39" y2="349.40" stroke="#111" stroke-width="0.8" />
<line x1="635.43" y1="347.80" x2="635.43" y2="349.40" stroke="#111" stroke-width="0.8" />
<line x1="645.38" y1="347.80" x2="645.38" y2="349.40" stroke="#111" stroke-width="0.8" />
<line x1="653.11" y1="347.80" x2="653.11" y2="349.40" stroke="#111" stroke-width="0.8" />
<line x1="659.42" y1="347.80" x2="659.42" y2="349.40" stroke="#111" stroke-width="0.8" />
<line x1="664.75" y1="347.80" x2="664.75" y2="349.40" stroke="#111" stroke-width="0.8" />
<line x1="669.38" y1="347.80" x2="669.38" y2="349.40" stroke="#111" stroke-width="0.8" />
<line x1="673.45" y1="347.80" x2="673.45" y2="349.40" stroke="#111" stroke-width="0.8" />
<line x1="677.10" y1="347.80" x2="677.10" y2="350.80" stroke="#111" stroke-width="1.2" />
<text transform="translate(677.70,364.00) scale(0.8491,1.0000)" font-size="10.6" text-anchor="middle" fill="#111" font-weight="normal" font-style="normal" stroke="#111" stroke-width="0.22" >10<tspan font-size="7.5" dy="-4.4">5</tspan></text>
<text transform="translate(600.00,377.00) scale(1.0000,1.0400)" font-size="13.9" text-anchor="middle" fill="#111" font-weight="normal" font-style="normal" stroke="#111" stroke-width="0.22" ><tspan font-style="italic">Freq</tspan> (Hz)</text>
<text transform="translate(490.60,284.30) rotate(-90) scale(1.045,1)" font-size="14.3" text-anchor="middle" fill="#111" stroke="#111" stroke-width="0.22" >C<tspan font-style="italic" font-size="9.5" dy="3">D</tspan><tspan dy="-3"> (pF)</tspan></text>
<line x1="604.60" y1="231.30" x2="621.70" y2="231.30" stroke="#fff" stroke-width="3.6" stroke-linecap="round" opacity="0.8"/>
<line x1="604.60" y1="244.10" x2="621.70" y2="244.10" stroke="#fff" stroke-width="3.6" stroke-linecap="round" opacity="0.8"/>
<line x1="605.60" y1="231.30" x2="620.70" y2="231.30" stroke="#4a4a4a" stroke-width="1.6" />
<line x1="605.60" y1="244.10" x2="620.70" y2="244.10" stroke="#1f97f2" stroke-width="1.6" />
<text transform="translate(625.20,234.30) scale(0.9623,1.0000)" font-size="10.6" text-anchor="start" fill="#4a4a4a" font-weight="bold" font-style="normal"  stroke="#fff" stroke-opacity="0.85" stroke-width="2.5" paint-order="stroke" stroke-linejoin="round">FIn-DEG</text>
<text transform="translate(625.20,247.40) scale(0.9623,1.0000)" font-size="10.6" text-anchor="start" fill="#1f97f2" font-weight="bold" font-style="normal"  stroke="#fff" stroke-opacity="0.85" stroke-width="2.5" paint-order="stroke" stroke-linejoin="round">WIn-DEG</text>
<rect x="35.00" y="420.00" width="425.20" height="62.80" fill="#030303" stroke="none" stroke-width="1" />
<rect x="35.00" y="487.00" width="425.20" height="60.50" fill="#030303" stroke="none" stroke-width="1" />
<g clip-path="url(#cF1)"><g filter="url(#bl2)">
<polygon points="40.9,483 43.9,452 49.4,442 49.4,483" fill="#0e0e0e"/>
<polygon points="54.2,483 57.2,452 62.7,442 62.7,483" fill="#0e0e0e"/>
<polygon points="67.5,483 70.5,452 76.0,442 76.0,483" fill="#0e0e0e"/>
<polygon points="80.8,483 83.8,452 89.3,442 89.3,483" fill="#0e0e0e"/>
<polygon points="94.1,483 97.1,452 102.6,442 102.6,483" fill="#0e0e0e"/>
<polygon points="107.4,483 110.4,452 115.9,442 115.9,483" fill="#0e0e0e"/>
<polygon points="120.7,483 123.7,452 129.2,442 129.2,483" fill="#0e0e0e"/>
<polygon points="134.0,483 137.0,452 142.5,442 142.5,483" fill="#0e0e0e"/>
<polygon points="147.3,483 150.3,452 155.8,442 155.8,483" fill="#0e0e0e"/>
<polygon points="160.6,483 163.6,452 169.1,442 169.1,483" fill="#0e0e0e"/>
<polygon points="173.9,483 176.9,452 182.4,442 182.4,483" fill="#0e0e0e"/>
<polygon points="187.2,483 190.2,452 195.7,442 195.7,483" fill="#0e0e0e"/>
<polygon points="200.5,483 203.5,452 209.0,442 209.0,483" fill="#0e0e0e"/>
<polygon points="213.8,483 216.8,452 222.3,442 222.3,483" fill="#0e0e0e"/>
<polygon points="227.1,483 230.1,452 235.6,442 235.6,483" fill="#0e0e0e"/>
<polygon points="240.4,483 243.4,452 248.9,442 248.9,483" fill="#0e0e0e"/>
<polygon points="253.7,483 256.7,452 262.2,442 262.2,483" fill="#0e0e0e"/>
<polygon points="267.0,483 270.0,452 275.5,442 275.5,483" fill="#0e0e0e"/>
<polygon points="280.3,483 283.3,452 288.8,442 288.8,483" fill="#0e0e0e"/>
<polygon points="293.6,483 296.6,452 302.1,442 302.1,483" fill="#0e0e0e"/>
<polygon points="306.9,483 309.9,452 315.4,442 315.4,483" fill="#0e0e0e"/>
<polygon points="320.2,483 323.2,452 328.7,442 328.7,483" fill="#0e0e0e"/>
<polygon points="333.5,483 336.5,452 342.0,442 342.0,483" fill="#0e0e0e"/>
<polygon points="346.8,483 349.8,452 355.3,442 355.3,483" fill="#0e0e0e"/>
<polygon points="360.1,483 363.1,452 368.6,442 368.6,483" fill="#0e0e0e"/>
<polygon points="373.4,483 376.4,452 381.9,442 381.9,483" fill="#0e0e0e"/>
<polygon points="386.7,483 389.7,452 395.2,442 395.2,483" fill="#0e0e0e"/>
<polygon points="400.0,483 403.0,452 408.5,442 408.5,483" fill="#0e0e0e"/>
<polygon points="413.3,483 416.3,452 421.8,442 421.8,483" fill="#0e0e0e"/>
<polygon points="426.6,483 429.6,452 435.1,442 435.1,483" fill="#0e0e0e"/>
<polygon points="439.9,483 442.9,452 448.4,442 448.4,483" fill="#0e0e0e"/>
<polygon points="453.2,483 456.2,452 461.7,442 461.7,483" fill="#0e0e0e"/>
<polygon points="466.5,483 469.5,452 475.0,442 475.0,483" fill="#0e0e0e"/>
<polygon points="479.8,483 482.8,452 488.3,442 488.3,483" fill="#0e0e0e"/>
</g></g>
<g clip-path="url(#cF2)"><g filter="url(#bl2)">
<rect x="37.0" y="505" width="9.5" height="43" fill="#0b0b0b"/>
<rect x="50.3" y="505" width="9.5" height="43" fill="#0b0b0b"/>
<rect x="63.6" y="505" width="9.5" height="43" fill="#0b0b0b"/>
<rect x="76.9" y="505" width="9.5" height="43" fill="#0b0b0b"/>
<rect x="90.2" y="505" width="9.5" height="43" fill="#0b0b0b"/>
<rect x="103.5" y="505" width="9.5" height="43" fill="#0b0b0b"/>
<rect x="116.8" y="505" width="9.5" height="43" fill="#0b0b0b"/>
<rect x="130.2" y="505" width="9.5" height="43" fill="#0b0b0b"/>
<rect x="143.5" y="505" width="9.5" height="43" fill="#0b0b0b"/>
<rect x="156.8" y="505" width="9.5" height="43" fill="#0b0b0b"/>
<rect x="170.1" y="505" width="9.5" height="43" fill="#0b0b0b"/>
<rect x="183.4" y="505" width="9.5" height="43" fill="#0b0b0b"/>
<rect x="196.7" y="505" width="9.5" height="43" fill="#0b0b0b"/>
<rect x="210.0" y="505" width="9.5" height="43" fill="#0b0b0b"/>
<rect x="223.3" y="505" width="9.5" height="43" fill="#0b0b0b"/>
<rect x="236.6" y="505" width="9.5" height="43" fill="#0b0b0b"/>
<rect x="249.9" y="505" width="9.5" height="43" fill="#0b0b0b"/>
<rect x="263.3" y="505" width="9.5" height="43" fill="#0b0b0b"/>
<rect x="276.6" y="505" width="9.5" height="43" fill="#0b0b0b"/>
<rect x="289.9" y="505" width="9.5" height="43" fill="#0b0b0b"/>
<rect x="303.2" y="505" width="9.5" height="43" fill="#0b0b0b"/>
<rect x="316.5" y="505" width="9.5" height="43" fill="#0b0b0b"/>
<rect x="329.8" y="505" width="9.5" height="43" fill="#0b0b0b"/>
<rect x="343.1" y="505" width="9.5" height="43" fill="#0b0b0b"/>
<rect x="356.4" y="505" width="9.5" height="43" fill="#0b0b0b"/>
<rect x="369.7" y="505" width="9.5" height="43" fill="#0b0b0b"/>
<rect x="383.1" y="505" width="9.5" height="43" fill="#0b0b0b"/>
<rect x="396.4" y="505" width="9.5" height="43" fill="#0b0b0b"/>
<rect x="409.7" y="505" width="9.5" height="43" fill="#0b0b0b"/>
<rect x="423.0" y="505" width="9.5" height="43" fill="#0b0b0b"/>
<rect x="436.3" y="505" width="9.5" height="43" fill="#0b0b0b"/>
<rect x="449.6" y="505" width="9.5" height="43" fill="#0b0b0b"/>
<rect x="462.9" y="505" width="9.5" height="43" fill="#0b0b0b"/>
<rect x="476.2" y="505" width="9.5" height="43" fill="#0b0b0b"/>
</g></g>
<ellipse cx="54.7" cy="450.6" rx="1.9" ry="3.0" fill="#2ae02a" opacity="0.45" filter="url(#bl)"/>
<ellipse cx="67.9" cy="450.6" rx="1.9" ry="3.0" fill="#2ae02a" opacity="1" filter="url(#bl)"/>
<ellipse cx="81.1" cy="450.6" rx="1.9" ry="3.0" fill="#2ae02a" opacity="1" filter="url(#bl)"/>
<ellipse cx="94.3" cy="450.6" rx="1.9" ry="3.0" fill="#2ae02a" opacity="0.5" filter="url(#bl)"/>
<ellipse cx="107.5" cy="450.6" rx="1.9" ry="3.0" fill="#2ae02a" opacity="0.45" filter="url(#bl)"/>
<ellipse cx="53.8" cy="519.5" rx="2.0" ry="3.1" fill="#2ae62a" opacity="0.12" filter="url(#bl)"/>
<ellipse cx="67.1" cy="519.5" rx="2.0" ry="3.1" fill="#2ae62a" opacity="0.3" filter="url(#bl)"/>
<ellipse cx="80.4" cy="519.5" rx="2.0" ry="3.1" fill="#2ae62a" opacity="0.3" filter="url(#bl)"/>
<ellipse cx="93.7" cy="519.5" rx="2.0" ry="3.1" fill="#2ae62a" opacity="0.85" filter="url(#bl)"/>
<ellipse cx="107.0" cy="519.5" rx="2.0" ry="3.1" fill="#2ae62a" opacity="0.9" filter="url(#bl)"/>
<ellipse cx="120.3" cy="519.5" rx="2.0" ry="3.1" fill="#2ae62a" opacity="1" filter="url(#bl)"/>
<ellipse cx="133.7" cy="519.5" rx="2.0" ry="3.1" fill="#2ae62a" opacity="1" filter="url(#bl)"/>
<ellipse cx="147.0" cy="519.5" rx="2.0" ry="3.1" fill="#2ae62a" opacity="1" filter="url(#bl)"/>
<ellipse cx="160.3" cy="519.5" rx="2.0" ry="3.1" fill="#2ae62a" opacity="1" filter="url(#bl)"/>
<ellipse cx="173.6" cy="519.5" rx="2.0" ry="3.1" fill="#2ae62a" opacity="1" filter="url(#bl)"/>
<ellipse cx="186.9" cy="519.5" rx="2.0" ry="3.1" fill="#2ae62a" opacity="1" filter="url(#bl)"/>
<ellipse cx="200.2" cy="519.5" rx="2.0" ry="3.1" fill="#2ae62a" opacity="1" filter="url(#bl)"/>
<ellipse cx="213.5" cy="519.5" rx="2.0" ry="3.1" fill="#2ae62a" opacity="1" filter="url(#bl)"/>
<ellipse cx="226.8" cy="519.5" rx="2.0" ry="3.1" fill="#2ae62a" opacity="1" filter="url(#bl)"/>
<ellipse cx="240.1" cy="519.5" rx="2.0" ry="3.1" fill="#2ae62a" opacity="1" filter="url(#bl)"/>
<ellipse cx="253.4" cy="519.5" rx="2.0" ry="3.1" fill="#2ae62a" opacity="1" filter="url(#bl)"/>
<ellipse cx="266.8" cy="519.5" rx="2.0" ry="3.1" fill="#2ae62a" opacity="1" filter="url(#bl)"/>
<ellipse cx="280.1" cy="519.5" rx="2.0" ry="3.1" fill="#2ae62a" opacity="1" filter="url(#bl)"/>
<ellipse cx="293.4" cy="519.5" rx="2.0" ry="3.1" fill="#2ae62a" opacity="1" filter="url(#bl)"/>
<ellipse cx="306.7" cy="519.5" rx="2.0" ry="3.1" fill="#2ae62a" opacity="1" filter="url(#bl)"/>
<ellipse cx="320.0" cy="519.5" rx="2.0" ry="3.1" fill="#2ae62a" opacity="1" filter="url(#bl)"/>
<ellipse cx="333.3" cy="519.5" rx="2.0" ry="3.1" fill="#2ae62a" opacity="1" filter="url(#bl)"/>
<ellipse cx="346.6" cy="519.5" rx="2.0" ry="3.1" fill="#2ae62a" opacity="1" filter="url(#bl)"/>
<ellipse cx="359.9" cy="519.5" rx="2.0" ry="3.1" fill="#2ae62a" opacity="0.6" filter="url(#bl)"/>
<ellipse cx="373.2" cy="519.5" rx="2.0" ry="3.1" fill="#2ae62a" opacity="0.55" filter="url(#bl)"/>
<ellipse cx="386.6" cy="519.5" rx="2.0" ry="3.1" fill="#2ae62a" opacity="0.33" filter="url(#bl)"/>
<ellipse cx="399.9" cy="519.5" rx="2.0" ry="3.1" fill="#2ae62a" opacity="0.3" filter="url(#bl)"/>
<ellipse cx="413.2" cy="519.5" rx="2.0" ry="3.1" fill="#2ae62a" opacity="0.14" filter="url(#bl)"/>
<ellipse cx="426.5" cy="519.5" rx="2.0" ry="3.1" fill="#2ae62a" opacity="0.12" filter="url(#bl)"/>
<ellipse cx="439.8" cy="519.5" rx="2.0" ry="3.1" fill="#2ae62a" opacity="0.05" filter="url(#bl)"/>
<ellipse cx="453.1" cy="519.5" rx="2.0" ry="3.1" fill="#2ae62a" opacity="0.04" filter="url(#bl)"/>
<text transform="translate(42.60,437.40) scale(1.0000,1.1200)" font-size="12.6" text-anchor="start" fill="#8a8a8a" font-weight="bold" font-style="normal"  stroke="#fff" stroke-width="1.8" paint-order="stroke" stroke-linejoin="round">FIn-DEG</text>
<text transform="translate(41.80,504.20) scale(1.0000,1.1200)" font-size="12.6" text-anchor="start" fill="#18aef0" font-weight="bold" font-style="normal"  stroke="#fff" stroke-width="1.8" paint-order="stroke" stroke-linejoin="round">WIn-DEG</text>
<rect x="437.80" y="425.10" width="13.10" height="6.00" fill="#fff" stroke="none" stroke-width="0" rx="2.6"/>
<rect x="440.30" y="427.50" width="8.10" height="1.30" fill="#0a0a0a" stroke="none" stroke-width="0" rx="0.5"/>
<text font-size="11" text-anchor="middle" fill="#0a0a0a" font-weight="bold" font-style="normal"  transform="translate(445.3,442.9) scale(0.94,1.02)" stroke="#fff" stroke-width="2.5" paint-order="stroke" stroke-linejoin="round">1 cm</text>
<line x1="35.00" y1="550.60" x2="460.20" y2="550.60" stroke="#111" stroke-width="1.1" />
<line x1="41.70" y1="550.60" x2="41.70" y2="553.60" stroke="#111" stroke-width="1.2" />
<text transform="translate(41.40,566.00) scale(1.0000,0.9900)" font-size="10.8" text-anchor="middle" fill="#111" font-weight="normal" font-style="normal" stroke="#111" stroke-width="0.22" >0</text>
<line x1="110.40" y1="550.60" x2="110.40" y2="553.60" stroke="#111" stroke-width="1.2" />
<text transform="translate(110.10,566.00) scale(1.0000,0.9900)" font-size="10.8" text-anchor="middle" fill="#111" font-weight="normal" font-style="normal" stroke="#111" stroke-width="0.22" >90</text>
<line x1="178.90" y1="550.60" x2="178.90" y2="553.60" stroke="#111" stroke-width="1.2" />
<text transform="translate(178.60,566.00) scale(1.0000,0.9900)" font-size="10.8" text-anchor="middle" fill="#111" font-weight="normal" font-style="normal" stroke="#111" stroke-width="0.22" >180</text>
<line x1="247.00" y1="550.60" x2="247.00" y2="553.60" stroke="#111" stroke-width="1.2" />
<text transform="translate(246.70,566.00) scale(1.0000,0.9900)" font-size="10.8" text-anchor="middle" fill="#111" font-weight="normal" font-style="normal" stroke="#111" stroke-width="0.22" >270</text>
<line x1="316.30" y1="550.60" x2="316.30" y2="553.60" stroke="#111" stroke-width="1.2" />
<text transform="translate(316.00,566.00) scale(1.0000,0.9900)" font-size="10.8" text-anchor="middle" fill="#111" font-weight="normal" font-style="normal" stroke="#111" stroke-width="0.22" >360</text>
<line x1="385.20" y1="550.60" x2="385.20" y2="553.60" stroke="#111" stroke-width="1.2" />
<text transform="translate(384.90,566.00) scale(1.0000,0.9900)" font-size="10.8" text-anchor="middle" fill="#111" font-weight="normal" font-style="normal" stroke="#111" stroke-width="0.22" >450</text>
<line x1="452.00" y1="550.60" x2="452.00" y2="553.60" stroke="#111" stroke-width="1.2" />
<text transform="translate(452.60,566.00) scale(1.0000,0.9900)" font-size="10.8" text-anchor="middle" fill="#111" font-weight="normal" font-style="normal" stroke="#111" stroke-width="0.22" >540</text>
<text transform="translate(245.60,578.80) scale(1.0000,1.0000)" font-size="14.9" text-anchor="middle" fill="#111" font-weight="normal" font-style="normal" stroke="#111" stroke-width="0.22" >Time (µs)</text>
<rect x="518.1" y="422.3" width="159.39999999999998" height="127.09999999999997" fill="url(#gG)"/>
<polyline fill="none" stroke="#5a5a5a" stroke-width="1.1" points="522.1,538.3 527.1,498.6 532.2,443.5 537.2,443.5 542.2,497.5 547.3,497.5 552.3,538.3 557.3,538.3 562.4,538.3 567.4,538.3 572.4,538.3 577.5,538.3 582.5,538.3 587.5,538.3 592.6,538.3 597.6,538.3 602.6,538.3 607.7,538.3 612.7,538.3 617.7,538.3 622.8,538.3 627.8,538.3 632.8,538.3 637.9,538.3 642.9,538.3 648.0,538.3 653.0,538.3 658.0,538.3 663.1,538.3 668.1,538.3 673.1,538.3"/>
<polygon points="518.8,538.3 524.4,535.0 524.4,541.6" fill="#5a5a5a"/>
<polygon points="523.8,498.6 529.4,495.3 529.4,501.9" fill="#5a5a5a"/>
<polygon points="528.9,443.5 534.5,440.2 534.5,446.8" fill="#5a5a5a"/>
<polygon points="533.9,443.5 539.5,440.2 539.5,446.8" fill="#5a5a5a"/>
<polygon points="538.9,497.5 544.5,494.2 544.5,500.8" fill="#5a5a5a"/>
<polygon points="544.0,497.5 549.6,494.2 549.6,500.8" fill="#5a5a5a"/>
<polygon points="549.0,538.3 554.6,535.0 554.6,541.6" fill="#5a5a5a"/>
<polygon points="554.0,538.3 559.6,535.0 559.6,541.6" fill="#5a5a5a"/>
<polygon points="559.1,538.3 564.7,535.0 564.7,541.6" fill="#5a5a5a"/>
<polygon points="564.1,538.3 569.7,535.0 569.7,541.6" fill="#5a5a5a"/>
<polygon points="569.1,538.3 574.7,535.0 574.7,541.6" fill="#5a5a5a"/>
<polygon points="574.2,538.3 579.8,535.0 579.8,541.6" fill="#5a5a5a"/>
<polygon points="579.2,538.3 584.8,535.0 584.8,541.6" fill="#5a5a5a"/>
<polygon points="584.2,538.3 589.8,535.0 589.8,541.6" fill="#5a5a5a"/>
<polygon points="589.3,538.3 594.9,535.0 594.9,541.6" fill="#5a5a5a"/>
<polygon points="594.3,538.3 599.9,535.0 599.9,541.6" fill="#5a5a5a"/>
<polygon points="599.3,538.3 604.9,535.0 604.9,541.6" fill="#5a5a5a"/>
<polygon points="604.4,538.3 610.0,535.0 610.0,541.6" fill="#5a5a5a"/>
<polygon points="609.4,538.3 615.0,535.0 615.0,541.6" fill="#5a5a5a"/>
<polygon points="614.4,538.3 620.0,535.0 620.0,541.6" fill="#5a5a5a"/>
<polygon points="619.5,538.3 625.1,535.0 625.1,541.6" fill="#5a5a5a"/>
<polygon points="624.5,538.3 630.1,535.0 630.1,541.6" fill="#5a5a5a"/>
<polygon points="629.5,538.3 635.1,535.0 635.1,541.6" fill="#5a5a5a"/>
<polygon points="634.6,538.3 640.2,535.0 640.2,541.6" fill="#5a5a5a"/>
<polygon points="639.6,538.3 645.2,535.0 645.2,541.6" fill="#5a5a5a"/>
<polygon points="644.7,538.3 650.2,535.0 650.2,541.6" fill="#5a5a5a"/>
<polygon points="649.7,538.3 655.3,535.0 655.3,541.6" fill="#5a5a5a"/>
<polygon points="654.7,538.3 660.3,535.0 660.3,541.6" fill="#5a5a5a"/>
<polygon points="659.8,538.3 665.4,535.0 665.4,541.6" fill="#5a5a5a"/>
<polygon points="664.8,538.3 670.4,535.0 670.4,541.6" fill="#5a5a5a"/>
<polygon points="669.8,538.3 675.4,535.0 675.4,541.6" fill="#5a5a5a"/>
<polyline fill="none" stroke="#1cb0f2" stroke-width="1.2" points="522.1,531.4 527.1,531.9 532.2,519.7 537.2,520.3 542.2,488.5 547.3,488.0 552.3,443.5 557.3,443.5 562.4,443.5 567.4,443.5 572.4,443.5 577.5,443.5 582.5,443.5 587.5,443.5 592.6,443.5 597.6,443.5 602.6,453.0 607.7,452.5 612.7,460.4 617.7,460.4 622.8,468.9 627.8,468.4 632.8,477.4 637.9,476.8 642.9,497.5 648.0,497.5 653.0,510.7 658.0,510.7 663.1,522.9 668.1,522.9 673.1,533.5"/>
<polygon points="525.4,531.4 519.8,528.1 519.8,534.7" fill="#1cb0f2"/>
<polygon points="530.4,531.9 524.8,528.6 524.8,535.2" fill="#1cb0f2"/>
<polygon points="535.5,519.7 529.9,516.4 529.9,523.0" fill="#1cb0f2"/>
<polygon points="540.5,520.3 534.9,517.0 534.9,523.6" fill="#1cb0f2"/>
<polygon points="545.5,488.5 539.9,485.2 539.9,491.8" fill="#1cb0f2"/>
<polygon points="550.6,488.0 545.0,484.7 545.0,491.3" fill="#1cb0f2"/>
<polygon points="555.6,443.5 550.0,440.2 550.0,446.8" fill="#1cb0f2"/>
<polygon points="560.6,443.5 555.0,440.2 555.0,446.8" fill="#1cb0f2"/>
<polygon points="565.7,443.5 560.1,440.2 560.1,446.8" fill="#1cb0f2"/>
<polygon points="570.7,443.5 565.1,440.2 565.1,446.8" fill="#1cb0f2"/>
<polygon points="575.7,443.5 570.1,440.2 570.1,446.8" fill="#1cb0f2"/>
<polygon points="580.8,443.5 575.2,440.2 575.2,446.8" fill="#1cb0f2"/>
<polygon points="585.8,443.5 580.2,440.2 580.2,446.8" fill="#1cb0f2"/>
<polygon points="590.8,443.5 585.2,440.2 585.2,446.8" fill="#1cb0f2"/>
<polygon points="595.9,443.5 590.3,440.2 590.3,446.8" fill="#1cb0f2"/>
<polygon points="600.9,443.5 595.3,440.2 595.3,446.8" fill="#1cb0f2"/>
<polygon points="605.9,453.0 600.3,449.7 600.3,456.3" fill="#1cb0f2"/>
<polygon points="611.0,452.5 605.4,449.2 605.4,455.8" fill="#1cb0f2"/>
<polygon points="616.0,460.4 610.4,457.1 610.4,463.7" fill="#1cb0f2"/>
<polygon points="621.0,460.4 615.4,457.1 615.4,463.7" fill="#1cb0f2"/>
<polygon points="626.1,468.9 620.5,465.6 620.5,472.2" fill="#1cb0f2"/>
<polygon points="631.1,468.4 625.5,465.1 625.5,471.7" fill="#1cb0f2"/>
<polygon points="636.1,477.4 630.5,474.1 630.5,480.7" fill="#1cb0f2"/>
<polygon points="641.2,476.8 635.6,473.5 635.6,480.1" fill="#1cb0f2"/>
<polygon points="646.2,497.5 640.6,494.2 640.6,500.8" fill="#1cb0f2"/>
<polygon points="651.2,497.5 645.7,494.2 645.7,500.8" fill="#1cb0f2"/>
<polygon points="656.3,510.7 650.7,507.4 650.7,514.0" fill="#1cb0f2"/>
<polygon points="661.3,510.7 655.7,507.4 655.7,514.0" fill="#1cb0f2"/>
<polygon points="666.4,522.9 660.8,519.6 660.8,526.2" fill="#1cb0f2"/>
<polygon points="671.4,522.9 665.8,519.6 665.8,526.2" fill="#1cb0f2"/>
<polygon points="676.4,533.5 670.8,530.2 670.8,536.8" fill="#1cb0f2"/>
<rect x="518.10" y="422.30" width="159.40" height="127.10" fill="none" stroke="#262626" stroke-width="1.5" />
<line x1="515.00" y1="549.40" x2="518.10" y2="549.40" stroke="#111" stroke-width="1.2" />
<text transform="translate(514.30,552.50) scale(1.0000,1.1500)" font-size="9.6" text-anchor="end" fill="#111" font-weight="normal" font-style="normal" stroke="#111" stroke-width="0.22" >0.0</text>
<line x1="515.00" y1="528.22" x2="518.10" y2="528.22" stroke="#111" stroke-width="1.2" />
<text transform="translate(514.30,531.32) scale(1.0000,1.1500)" font-size="9.6" text-anchor="end" fill="#111" font-weight="normal" font-style="normal" stroke="#111" stroke-width="0.22" >0.2</text>
<line x1="515.00" y1="507.03" x2="518.10" y2="507.03" stroke="#111" stroke-width="1.2" />
<text transform="translate(514.30,510.13) scale(1.0000,1.1500)" font-size="9.6" text-anchor="end" fill="#111" font-weight="normal" font-style="normal" stroke="#111" stroke-width="0.22" >0.4</text>
<line x1="515.00" y1="485.85" x2="518.10" y2="485.85" stroke="#111" stroke-width="1.2" />
<text transform="translate(514.30,488.95) scale(1.0000,1.1500)" font-size="9.6" text-anchor="end" fill="#111" font-weight="normal" font-style="normal" stroke="#111" stroke-width="0.22" >0.6</text>
<line x1="515.00" y1="464.67" x2="518.10" y2="464.67" stroke="#111" stroke-width="1.2" />
<text transform="translate(514.30,467.77) scale(1.0000,1.1500)" font-size="9.6" text-anchor="end" fill="#111" font-weight="normal" font-style="normal" stroke="#111" stroke-width="0.22" >0.8</text>
<line x1="515.00" y1="443.48" x2="518.10" y2="443.48" stroke="#111" stroke-width="1.2" />
<text transform="translate(514.30,446.58) scale(1.0000,1.1500)" font-size="9.6" text-anchor="end" fill="#111" font-weight="normal" font-style="normal" stroke="#111" stroke-width="0.22" >1.0</text>
<line x1="515.00" y1="422.30" x2="518.10" y2="422.30" stroke="#111" stroke-width="1.2" />
<text transform="translate(514.30,425.40) scale(1.0000,1.1500)" font-size="9.6" text-anchor="end" fill="#111" font-weight="normal" font-style="normal" stroke="#111" stroke-width="0.22" >1.2</text>
<line x1="522.10" y1="549.40" x2="522.10" y2="552.50" stroke="#111" stroke-width="1.2" />
<text transform="translate(522.10,563.00) scale(1.0000,1.0600)" font-size="10" text-anchor="middle" fill="#111" font-weight="normal" font-style="normal" stroke="#111" stroke-width="0.22" >0</text>
<line x1="547.27" y1="549.40" x2="547.27" y2="552.50" stroke="#111" stroke-width="1.2" />
<text transform="translate(547.27,563.00) scale(1.0000,1.0600)" font-size="10" text-anchor="middle" fill="#111" font-weight="normal" font-style="normal" stroke="#111" stroke-width="0.22" >90</text>
<line x1="572.44" y1="549.40" x2="572.44" y2="552.50" stroke="#111" stroke-width="1.2" />
<text transform="translate(572.44,563.00) scale(1.0000,1.0600)" font-size="10" text-anchor="middle" fill="#111" font-weight="normal" font-style="normal" stroke="#111" stroke-width="0.22" >180</text>
<line x1="597.61" y1="549.40" x2="597.61" y2="552.50" stroke="#111" stroke-width="1.2" />
<text transform="translate(597.61,563.00) scale(1.0000,1.0600)" font-size="10" text-anchor="middle" fill="#111" font-weight="normal" font-style="normal" stroke="#111" stroke-width="0.22" >270</text>
<line x1="622.78" y1="549.40" x2="622.78" y2="552.50" stroke="#111" stroke-width="1.2" />
<text transform="translate(622.78,563.00) scale(1.0000,1.0600)" font-size="10" text-anchor="middle" fill="#111" font-weight="normal" font-style="normal" stroke="#111" stroke-width="0.22" >360</text>
<line x1="647.95" y1="549.40" x2="647.95" y2="552.50" stroke="#111" stroke-width="1.2" />
<text transform="translate(647.95,563.00) scale(1.0000,1.0600)" font-size="10" text-anchor="middle" fill="#111" font-weight="normal" font-style="normal" stroke="#111" stroke-width="0.22" >450</text>
<line x1="673.12" y1="549.40" x2="673.12" y2="552.50" stroke="#111" stroke-width="1.2" />
<text transform="translate(673.12,563.00) scale(1.0000,1.0600)" font-size="10" text-anchor="middle" fill="#111" font-weight="normal" font-style="normal" stroke="#111" stroke-width="0.22" >540</text>
<text transform="translate(600.30,577.50) scale(1.0000,1.0400)" font-size="14" text-anchor="middle" fill="#111" font-weight="normal" font-style="normal" stroke="#111" stroke-width="0.22" >Time (µs)</text>
<text transform="translate(490.60,486.30) rotate(-90) scale(0.99,1)" font-size="13.9" text-anchor="middle" fill="#111" stroke="#111" stroke-width="0.22" ><tspan font-style="italic">GLI</tspan><tspan font-style="italic" font-size="9.5" dy="3">N,ave</tspan><tspan dy="-3" dx="1.5">(a.u.)</tspan></text>
<line x1="619.30" y1="431.80" x2="637.20" y2="431.80" stroke="#5a5a5a" stroke-width="1.1" />
<line x1="619.30" y1="442.80" x2="637.20" y2="442.80" stroke="#1cb0f2" stroke-width="1.2" />
<polygon points="624.3,431.8 631,428 631,435.6" fill="#5a5a5a"/>
<polygon points="632.3,442.8 625.6,439 625.6,446.6" fill="#1cb0f2"/>
<text font-size="10.6" text-anchor="start" fill="#333" font-weight="bold" font-style="normal"  stroke="#fff" stroke-opacity="0.8" stroke-width="2" paint-order="stroke" stroke-linejoin="round" transform="translate(639.5,434.3) scale(0.74,0.94)" x="0">FIn-DEG</text>
<text font-size="10.6" text-anchor="start" fill="#1cb0f2" font-weight="bold" font-style="normal"  stroke="#fff" stroke-opacity="0.8" stroke-width="2" paint-order="stroke" stroke-linejoin="round" transform="translate(639.5,445.5) scale(0.74,0.94)" x="0">WIn-DEG</text>
</svg>
</body></html>
